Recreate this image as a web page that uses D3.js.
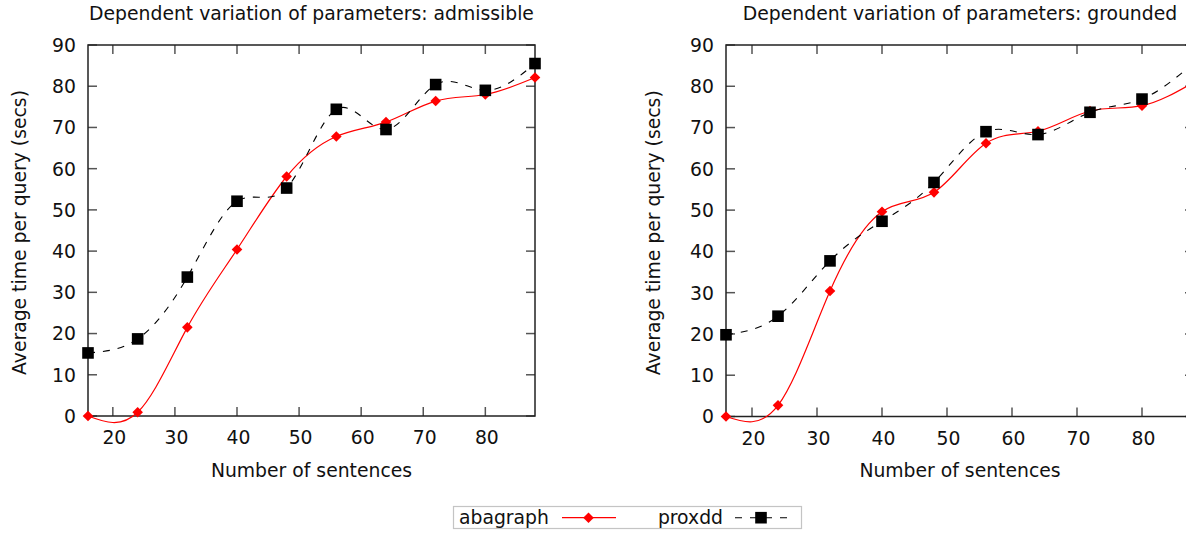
<!DOCTYPE html>
<html>
<head>
<meta charset="utf-8">
<script src="https://cdn.jsdelivr.net/npm/d3@7/dist/d3.min.js"></script>
<style>
  html, body { margin: 0; padding: 0; background: #fff; }
  svg { display: block; }
  text { font-family: "DejaVu Sans", sans-serif; font-size: 18.8px; fill: #111; }
</style>
</head>
<body>
<svg id="chart" width="1186" height="533"></svg>
<script>
// ---- data ----
const sentences = [16, 24, 32, 40, 48, 56, 64, 72, 80, 88];
const admissibleAbagraph = [0, 0.9, 21.5, 40.4, 58.1, 67.8, 71.3, 76.4, 78.0, 82.1];
const admissibleProxdd   = [15.3, 18.7, 33.7, 52.1, 55.3, 74.4, 69.5, 80.4, 79.0, 85.5];
const groundedAbagraph   = [0, 2.7, 30.4, 49.6, 54.3, 66.2, 69.1, 74.0, 75.3, 81.0];
const groundedProxdd     = [19.8, 24.3, 37.7, 47.3, 56.7, 69.0, 68.3, 73.7, 76.9, 85.7];
const xTicks = [20, 30, 40, 50, 60, 70, 80];
const yTicks = [0, 10, 20, 30, 40, 50, 60, 70, 80, 90];
const seriesNames = ["abagraph", "proxdd"];
const titles = ["Dependent variation of parameters: admissible", "Dependent variation of parameters: grounded"];
const xLabel = "Number of sentences";
const yLabel = "Average time per query (secs)";

const svg = d3.select("#chart");
const FS = 18.8;

function drawPanel(cfg) {
  const x = d3.scaleLinear().domain([16, 88]).range([cfg.left, cfg.right]);
  const y = d3.scaleLinear().domain([0, 90]).range([cfg.bottom, cfg.top]);
  const g = svg.append("g");

  // ticks (mirrored, inward)
  const tl = 9;
  const tickG = g.append("g").attr("stroke", "#555").attr("stroke-width", 1.5);
  xTicks.forEach(t => {
    tickG.append("line").attr("x1", x(t)).attr("x2", x(t)).attr("y1", y(0)).attr("y2", y(0) - tl);
    tickG.append("line").attr("x1", x(t)).attr("x2", x(t)).attr("y1", y(90)).attr("y2", y(90) + tl);
  });
  yTicks.forEach(t => {
    tickG.append("line").attr("x1", x(16)).attr("x2", x(16) + tl).attr("y1", y(t)).attr("y2", y(t));
    tickG.append("line").attr("x1", x(88)).attr("x2", x(88) - tl).attr("y1", y(t)).attr("y2", y(t));
  });

  // border
  g.append("rect")
    .attr("x", x(16)).attr("y", y(90))
    .attr("width", x(88) - x(16)).attr("height", y(0) - y(90))
    .attr("fill", "none").attr("stroke", "#222").attr("stroke-width", 1.5);

  // tick labels
  xTicks.forEach(t => {
    g.append("text").attr("x", x(t) + 1.5).attr("y", y(0) + 28)
      .attr("text-anchor", "middle").text(t);
  });
  yTicks.forEach(t => {
    g.append("text").attr("x", x(16) - 12).attr("y", y(t) + FS * 0.365)
      .attr("text-anchor", "end").text(t);
  });

  // titles
  const cx = (x(16) + x(88)) / 2;
  g.append("text").attr("x", cx).attr("y", 19.5).attr("text-anchor", "middle").text(cfg.title);
  g.append("text").attr("x", cx).attr("y", 477).attr("text-anchor", "middle").text(xLabel);
  g.append("text")
    .attr("transform", `translate(${cfg.ylabX},${(y(0) + y(90)) / 2 + 2}) rotate(-90)`)
    .attr("text-anchor", "middle").text(yLabel);

  const line = d3.line().x(d => x(d[0])).y(d => y(d[1])).curve(d3.curveNatural);
  const redPts = sentences.map((s, i) => [s, cfg.aba[i]]);
  const blkPts = sentences.map((s, i) => [s, cfg.prox[i]]);

  g.append("path").attr("d", line(redPts)).attr("fill", "none")
    .attr("stroke", "#ff0000").attr("stroke-width", 1.2);
  g.selectAll(".dia").data(redPts).enter().append("path")
    .attr("d", "M0,-5.3L5.3,0L0,5.3L-5.3,0Z")
    .attr("transform", d => `translate(${x(d[0])},${y(d[1])})`)
    .attr("fill", "#ff0000");

  g.append("path").attr("d", line(blkPts)).attr("fill", "none")
    .attr("stroke", "#000").attr("stroke-width", 1.1).attr("stroke-dasharray", "7,8");
  g.selectAll(".sq").data(blkPts).enter().append("rect")
    .attr("x", d => x(d[0]) - 5.8).attr("y", d => y(d[1]) - 5.8)
    .attr("width", 11.6).attr("height", 11.6).attr("fill", "#000");
}

drawPanel({ left: 88, right: 535, top: 45, bottom: 416, title: titles[0], ylabX: 25.8,
            aba: admissibleAbagraph, prox: admissibleProxdd });
drawPanel({ left: 726, right: 1194, top: 45, bottom: 416.5, title: titles[1], ylabX: 660,
            aba: groundedAbagraph, prox: groundedProxdd });

// legend
const lg = svg.append("g");
lg.append("rect").attr("x", 453.5).attr("y", 506.5).attr("width", 348).attr("height", 22)
  .attr("fill", "#fff").attr("stroke", "#c4c4c4").attr("stroke-width", 1.2);
lg.append("text").attr("x", 459).attr("y", 524).text(seriesNames[0]);
lg.append("line").attr("x1", 562).attr("x2", 616).attr("y1", 517.7).attr("y2", 517.7)
  .attr("stroke", "#ff0000").attr("stroke-width", 1.2);
lg.append("path").attr("d", "M0,-5.3L5.3,0L0,5.3L-5.3,0Z").attr("transform", "translate(588.5,517.7)").attr("fill", "#ff0000");
lg.append("text").attr("x", 723).attr("y", 524).attr("text-anchor", "end").text(seriesNames[1]);
lg.append("line").attr("x1", 735).attr("x2", 787).attr("y1", 517.7).attr("y2", 517.7)
  .attr("stroke", "#000").attr("stroke-width", 1.1).attr("stroke-dasharray", "7,8");
lg.append("rect").attr("x", 755.2).attr("y", 511.9).attr("width", 11.6).attr("height", 11.6).attr("fill", "#000");
</script>
</body>
</html>
